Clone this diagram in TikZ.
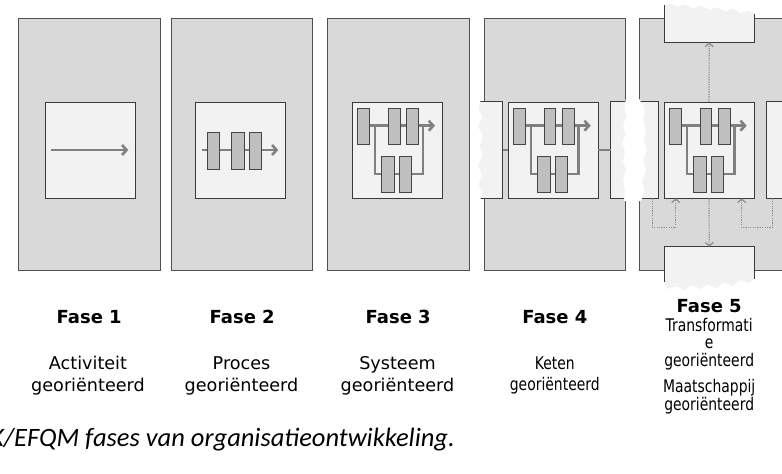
\documentclass[tikz,border=0pt]{standalone}
\usepackage{fontspec}
\usetikzlibrary{arrows.meta}
\newfontfamily\vfont{DejaVu Sans}
\newfontfamily\vnfont[FakeStretch=0.8]{DejaVu Sans}
\newfontfamily\capfont{Carlito}
\definecolor{pfill}{HTML}{D9D9D9}
\definecolor{pborder}{HTML}{505050}
\definecolor{ifill}{HTML}{F2F2F2}
\definecolor{iborder}{HTML}{3A3A3A}
\definecolor{bfill}{HTML}{BFBFBF}
\definecolor{bborder}{HTML}{454545}
\definecolor{flowc}{HTML}{808080}
\definecolor{dotc}{HTML}{8C8C8C}
\tikzset{
  panel/.style={draw=pborder, fill=pfill, line width=1pt, inner sep=0pt, outer sep=0pt, anchor=north west, minimum height=251.7pt},
  innerbox/.style={draw=iborder, fill=ifill, line width=0.9pt, inner sep=0pt, outer sep=0pt, anchor=north west, minimum width=90pt, minimum height=96.3pt},
  blk/.style={draw=bborder, fill=bfill, line width=0.8pt},
  flow/.style={draw=flowc, line width=2.6pt},
  flowthin/.style={draw=flowc, line width=2.2pt, line join=miter},
  barb/.style={-{Straight Barb[length=4.5pt,width=10pt]}},
  conn/.style={draw=flowc, line width=2pt},
  dots/.style={draw=dotc, line width=1.2pt, dash pattern=on 1.2pt off 1.2pt},
  dotarrow/.style={-{Straight Barb[length=3.5pt,width=8pt]}},
  sidebox/.style={draw=iborder, line width=0.9pt},
  fase/.style={anchor=base, inner sep=0pt, font=\vfont\bfseries\fontsize{18}{20}\selectfont},
  desc/.style={anchor=base, inner sep=0pt, font=\vfont\fontsize{17.6}{20}\selectfont},
  descn/.style={anchor=base, inner sep=0pt, font=\vnfont\fontsize{17.4}{20}\selectfont},
  capt/.style={anchor=base east, inner sep=0pt, font=\capfont\itshape\fontsize{26.5}{30}\selectfont}
}
\newcommand\sysdiag[1]{%
  \begin{scope}[shift={(#1,0)}]
    \draw[flow,barb] (17,125.7) -- (82.7,125.7);
    \draw[flowthin] (22.7,125.7) -- (22.7,174.3) -- (70.4,174.3) -- (70.4,127);
    \draw[blk] (5,108.3) rectangle (17,144);
    \draw[blk] (36,108.3) rectangle (47.7,144);
    \draw[blk] (54,108.3) rectangle (66,144);
    \draw[blk] (29,156.3) rectangle (42,192.3);
    \draw[blk] (47.4,156.3) rectangle (59,192.3);
  \end{scope}}
\begin{document}
\begin{tikzpicture}[x=1pt,y=-1pt]
\useasboundingbox (0,0) rectangle (782,474);
\clip (0,0) rectangle (782,474);
\fill[white] (0,0) rectangle (782,474);

% panels
\node[panel, minimum width=141.7pt] (p1) at (18.3,18.3) {};
\node[panel, minimum width=141pt] (p2) at (171.7,18.3) {};
\node[panel, minimum width=141.7pt] (p3) at (327.3,18.3) {};
\node[panel, minimum width=141.7pt] (p4) at (484,18.3) {};
\node[panel, minimum width=200pt] (p5) at (639.3,18.3) {};

% side boxes between panel 3 and 4
\fill[ifill] (474,101.7) rectangle (502.7,198.3);
\draw[sidebox] (479,101.7) -- (502.7,101.7) -- (502.7,198.3) -- (479,198.3);
\fill[white] (470.5,99) -- (481,99) -- (478.5,108) -- (482,117) -- (478,127) -- (483,136) -- (479.5,146) -- (482.5,155) -- (478,165) -- (481.5,175) -- (478.5,185) -- (482,193) -- (480,201) -- (470.5,201) -- cycle;

% side box between panel 4 and 5
\fill[ifill] (610.7,101.7) rectangle (658.3,198.3);
\draw[sidebox] (610.7,101.7) rectangle (658.3,198.3);
\fill[white] (625.7,99) -- (624.5,108) -- (627,116) -- (623,125) -- (625.5,134) -- (622.5,143) -- (625,152) -- (623,161) -- (626,170) -- (623,180) -- (625,190) -- (624,201)
  -- (641,201) -- (644.5,191) -- (642,181) -- (646.5,170) -- (643,160) -- (647,150) -- (644,140) -- (646,130) -- (643,120) -- (645,110) -- (639.3,99) -- cycle;

% panel 5 right box
\fill[ifill] (766,101.7) rectangle (800,198.3);
\draw[sidebox] (800,101.7) -- (766,101.7) -- (766,198.3) -- (800,198.3);

% inner boxes
\node[innerbox] (i1) at (45.3,102) {};
\node[innerbox] (i2) at (195.3,102) {};
\node[innerbox] (i3) at (352.3,102) {};
\node[innerbox] (i4) at (508,102) {};
\node[innerbox] (i5) at (664,102) {};

% connectors phase 4
\coordinate (ga) at (502.7,150.15);
\coordinate (gb) at (610.7,150.15);
\draw[conn] (ga) -- (i4.west);
\draw[conn] (i4.east) -- (gb);

% phase 1
\draw[flow,barb] (51,150) -- (128.3,150);
% phase 2
\draw[flow,barb] (201.7,150) -- (278.3,150);
\draw[blk] (207.3,132.3) rectangle (219.3,169);
\draw[blk] (231.3,132.3) rectangle (244,169);
\draw[blk] (249.3,132.3) rectangle (261.7,169);
% phases 3-5
\sysdiag{352.3}
\sysdiag{508}
\sysdiag{664}

% panel 5 top and bottom boxes (torn)
\fill[ifill] (664,42.3) -- (664,5) -- (670,3.5) -- (677,6.5) -- (685,4.5) -- (693,8.5) -- (701,5.5) -- (709,9.5) -- (717,7.5) -- (725,11.5) -- (733,8.5) -- (741,13.5) -- (748,10.5) -- (754.3,13.5) -- (754.3,42.3) -- cycle;
\draw[sidebox] (664,5) -- (664,42.3) -- (754.3,42.3) -- (754.3,13.5);
\fill[ifill] (664,246.7) -- (754.3,246.7) -- (754.3,279) -- (748,283) -- (740,280) -- (732,286) -- (724,282) -- (716,288) -- (708,284) -- (700,289) -- (692,285) -- (684,290) -- (676,286) -- (668,289) -- (664,283) -- cycle;
\draw[sidebox] (664,282) -- (664,246.7) -- (754.3,246.7) -- (754.3,279);
\coordinate (tbs) at (709.2,42.3);
\coordinate (bbn) at (709.2,246.7);

% dotted arrows
\draw[dots,dotarrow] (i5.north) -- (tbs);
\draw[dots,dotarrow] (i5.south) -- (bbn);
\coordinate (lb) at (652.3,198.3);
\coordinate (la) at (675.7,198.3);
\coordinate (rb) at (772.3,198.3);
\coordinate (ra) at (741.7,198.3);
\draw[dots,dotarrow] (lb) -- (652.3,227.7) -- (675.7,227.7) -- (la);
\draw[dots,dotarrow] (rb) -- (772.3,227.7) -- (741.7,227.7) -- (ra);

% labels
\node[fase] (f1) at (89.2,323.3) {Fase 1};
\node[fase] (f2) at (242.2,323.3) {Fase 2};
\node[fase] (f3) at (398.2,323.3) {Fase 3};
\node[fase] (f4) at (554.8,323.3) {Fase 4};
\node[fase] (f5) at (709.2,312.7) {Fase 5};

\node[desc] (d1a) at (88,369) {Activiteit};
\node[desc] (d1b) at (88,391) {georiënteerd};
\node[desc] (d2a) at (241.5,369) {Proces};
\node[desc] (d2b) at (241.5,391) {georiënteerd};
\node[desc] (d3a) at (397.5,369) {Systeem};
\node[desc] (d3b) at (397.5,391) {georiënteerd};
\node[descn] (d4a) at (554.8,369) {Keten};
\node[descn] (d4b) at (554.8,390.5) {georiënteerd};
\node[descn] (d5a) at (709.2,331) {Transformati};
\node[descn] (d5b) at (709.2,348) {e};
\node[descn] (d5c) at (709.2,366.5) {georiënteerd};
\node[descn] (d5d) at (709.2,392) {Maatschappij};
\node[descn] (d5e) at (709.2,410) {georiënteerd};

\node[capt] (cap) at (455,446.7) {K/EFQM fases van organisatieontwikkeling.};
\end{tikzpicture}
\end{document}
